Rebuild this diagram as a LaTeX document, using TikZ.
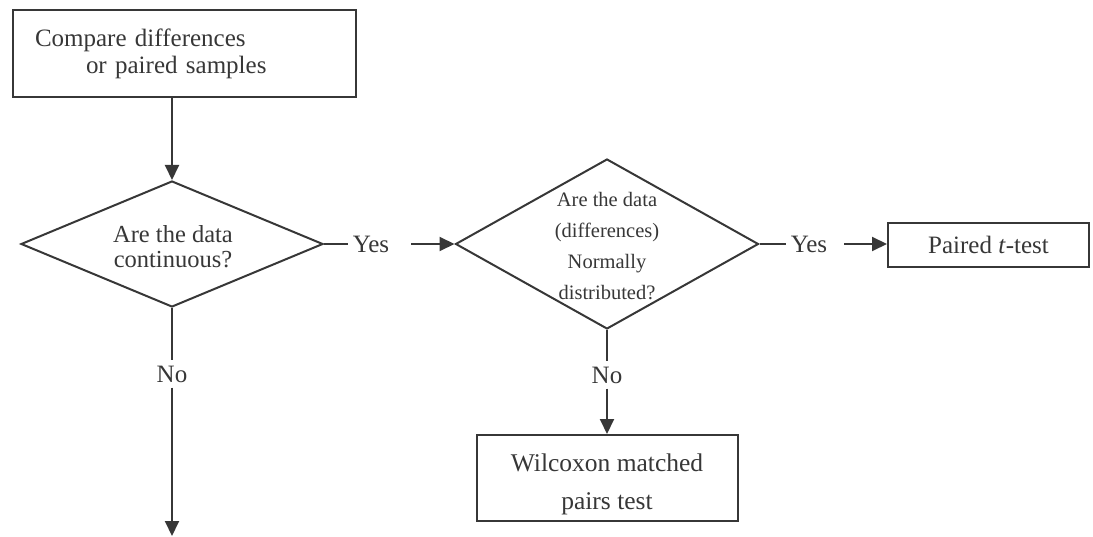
\documentclass[tikz,border=0pt]{standalone}
\usepackage{fontspec}
\setmainfont{Liberation Serif}
\usetikzlibrary{shapes.geometric,arrows.meta}
\definecolor{ink}{RGB}{55,55,55}
\definecolor{txt}{RGB}{55,55,55}
\tikzset{
  box/.style={draw=ink, line width=2pt, rectangle, inner sep=0pt, text=txt},
  dia/.style={draw=ink, line width=2pt, diamond, inner sep=0pt},
  lbl/.style={text=txt, inner sep=5pt},
  ln/.style={draw=ink, line width=2pt},
  arr/.style={draw=ink, line width=2pt, -{Triangle[length=15pt,width=14pt]}},
}
\newcommand{\fs}[2]{\fontsize{#1}{#2}\selectfont}
\begin{document}
\begin{tikzpicture}[x=1pt,y=-1pt]
\useasboundingbox (0,0) rectangle (1093,537);
% top box
\node[box, text width=299pt, inner xsep=22pt, minimum height=87pt, align=left, font=\fs{25}{27}]
  (start) at (184.5,53.5) {Compare differences\\\hspace*{51pt}or paired samples};
% diamond 1
\node[dia, minimum width=302pt, minimum height=126pt] (d1) at (172,244) {};
\node[text=txt, align=center, font=\fs{24.5}{25}] (d1t) at (173,247) {Are the data\\continuous?};
% diamond 2
\node[dia, minimum width=303pt, minimum height=170pt] (d2) at (607,244) {};
\node[text=txt, align=center, font=\fs{20.5}{31}] (d2t) at (607,246) {Are the data\\(differences)\\Normally\\distributed?};
% labels
\node[lbl, font=\fs{25}{27}] (yes1) at (371,244) {Yes};
\node[lbl, font=\fs{25}{27}] (yes2) at (809,244) {Yes};
\node[lbl, font=\fs{25}{27}] (no1) at (172,374) {No};
\node[lbl, font=\fs{25}{27}] (no2) at (607,375) {No};
% result boxes
\node[box, minimum width=201pt, minimum height=44pt, font=\fs{25}{27}] (ttest) at (988.5,245) {Paired \textit{t}-test};
\node[box, minimum width=261pt, minimum height=86pt, align=center, font=\fs{25.5}{38}] (wil) at (607,478) {\rule{0pt}{30pt}Wilcoxon matched\\pairs test};
\coordinate (end) at (172,536);
% connectors
\draw[arr] (start.south -| d1.north) -- (d1.north);
\draw[ln] (d1.east) -- (yes1.west |- d1.east);
\draw[arr, shorten <=17pt] (yes1.east |- d2.west) -- (d2.west);
\draw[ln] (d2.east) -- (yes2.west |- d2.east);
\draw[arr, shorten <=12pt] (yes2.east |- d2.east) -- (ttest.west |- d2.east);
\draw[ln] (d1.south) -- (no1.north);
\draw[arr] (no1.south) -- (end);
\draw[ln] (d2.south) -- (no2.north);
\draw[arr] (no2.south) -- (wil.north);
\end{tikzpicture}
\end{document}
